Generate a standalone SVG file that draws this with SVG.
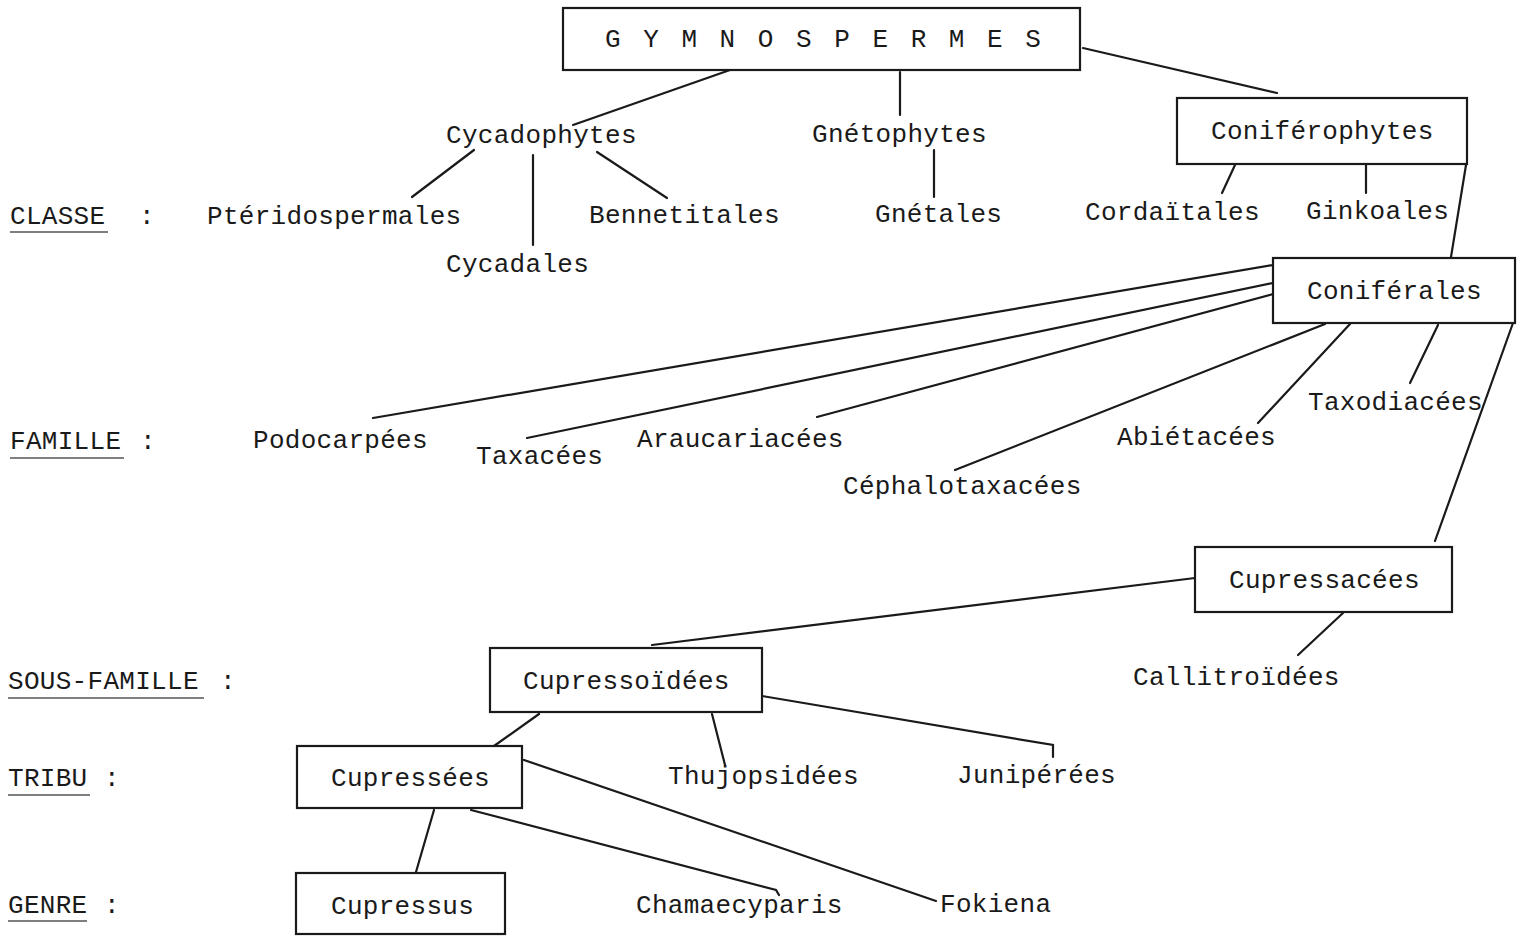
<svg xmlns="http://www.w3.org/2000/svg" width="1523" height="936" viewBox="0 0 1523 936">
<style>
  text { font-family: "Liberation Mono", "DejaVu Sans Mono", monospace; font-size: 26px; fill: #1a1a1a; letter-spacing: 0.3px; }
  .box { fill: #fff; stroke: #1a1a1a; stroke-width: 2.2; }
  .ln { stroke: #1a1a1a; stroke-width: 2.2; fill: none; stroke-linecap: round; }
  .ul { stroke: #555; stroke-width: 1.6; }
</style>
<rect width="1523" height="936" fill="#fff"/>

<g id="connectors">
  <line class="ln" x1="730" y1="70" x2="573" y2="125"/>
  <line class="ln" x1="900" y1="72" x2="900" y2="115"/>
  <line class="ln" x1="1083" y1="48" x2="1277" y2="93"/>
  <line class="ln" x1="474" y1="150" x2="412" y2="197"/>
  <line class="ln" x1="533" y1="155" x2="533" y2="245"/>
  <line class="ln" x1="597" y1="152" x2="667" y2="198"/>
  <line class="ln" x1="934" y1="150" x2="934" y2="197"/>
  <line class="ln" x1="1235" y1="165" x2="1222" y2="193"/>
  <line class="ln" x1="1366" y1="165" x2="1366" y2="193"/>
  <line class="ln" x1="1466" y1="165" x2="1451" y2="257"/>
  <line class="ln" x1="1273" y1="265" x2="373" y2="418"/>
  <line class="ln" x1="1273" y1="283" x2="527" y2="438"/>
  <line class="ln" x1="1273" y1="294" x2="817" y2="417"/>
  <line class="ln" x1="1325" y1="324" x2="955" y2="470"/>
  <line class="ln" x1="1350" y1="324" x2="1258" y2="423"/>
  <line class="ln" x1="1438" y1="325" x2="1410" y2="383"/>
  <line class="ln" x1="1513" y1="323" x2="1435" y2="541"/>
  <line class="ln" x1="1195" y1="578" x2="652" y2="645"/>
  <line class="ln" x1="1343" y1="613" x2="1298" y2="655"/>
  <line class="ln" x1="539" y1="714" x2="494" y2="746"/>
  <line class="ln" x1="712" y1="714" x2="725" y2="765"/>
  <polyline class="ln" points="762,696 1053,745 1053,757"/>
  <line class="ln" x1="434" y1="810" x2="416" y2="872"/>
  <polyline class="ln" points="471,810 776,890 779,895"/>
  <line class="ln" x1="524" y1="760" x2="936" y2="901"/>
</g>

<g id="levels">
  <text x="10" y="224">CLASSE</text><text x="139" y="224">:</text>
  <line class="ul" x1="10" y1="232" x2="108" y2="232"/>
  <text x="10" y="449">FAMILLE</text><text x="140" y="449">:</text>
  <line class="ul" x1="10" y1="458" x2="124" y2="458"/>
  <text x="8" y="689">SOUS-FAMILLE</text><text x="220" y="689">:</text>
  <line class="ul" x1="8" y1="698" x2="204" y2="698"/>
  <text x="8" y="786">TRIBU</text><text x="104" y="786">:</text>
  <line class="ul" x1="8" y1="795" x2="90" y2="795"/>
  <text x="8" y="913">GENRE</text><text x="104" y="913">:</text>
  <line class="ul" x1="8" y1="921" x2="87" y2="921"/>
</g>

<g id="gymnospermes">
  <rect class="box" x="563" y="8" width="517" height="62"/>
  <text x="605" y="47" style="letter-spacing:3.5px">G Y M N O S P E R M E S</text>
</g>
<g id="cycadophytes"><text x="446" y="143">Cycadophytes</text></g>
<g id="gnetophytes"><text x="812" y="142">Gnétophytes</text></g>
<g id="coniferophytes">
  <rect class="box" x="1177" y="98" width="290" height="66"/>
  <text x="1211" y="139">Coniférophytes</text>
</g>
<g id="pteridospermales"><text x="207" y="224">Ptéridospermales</text></g>
<g id="bennetitales"><text x="589" y="223">Bennetitales</text></g>
<g id="cycadales"><text x="446" y="272">Cycadales</text></g>
<g id="gnetales"><text x="875" y="222">Gnétales</text></g>
<g id="cordaitales"><text x="1085" y="220">Cordaïtales</text></g>
<g id="ginkoales"><text x="1306" y="219">Ginkoales</text></g>
<g id="coniferales">
  <rect class="box" x="1273" y="258" width="242" height="65"/>
  <text x="1307" y="299">Coniférales</text>
</g>
<g id="podocarpees"><text x="253" y="448">Podocarpées</text></g>
<g id="taxacees"><text x="476" y="464">Taxacées</text></g>
<g id="araucariacees"><text x="637" y="447">Araucariacées</text></g>
<g id="cephalotaxacees"><text x="843" y="494">Céphalotaxacées</text></g>
<g id="abietacees"><text x="1117" y="445">Abiétacées</text></g>
<g id="taxodiacees"><text x="1308" y="410">Taxodiacées</text></g>
<g id="cupressacees">
  <rect class="box" x="1195" y="547" width="257" height="65"/>
  <text x="1229" y="588">Cupressacées</text>
</g>
<g id="cupressoidees">
  <rect class="box" x="490" y="648" width="272" height="64"/>
  <text x="523" y="689">Cupressoïdées</text>
</g>
<g id="callitroidees"><text x="1133" y="685">Callitroïdées</text></g>
<g id="cupressees">
  <rect class="box" x="297" y="746" width="225" height="62"/>
  <text x="331" y="786">Cupressées</text>
</g>
<g id="thujopsidees"><text x="668" y="784">Thujopsidées</text></g>
<g id="juniperees"><text x="957" y="783">Junipérées</text></g>
<g id="cupressus">
  <rect class="box" x="296" y="873" width="209" height="61"/>
  <text x="331" y="914">Cupressus</text>
</g>
<g id="chamaecyparis"><text x="636" y="913">Chamaecyparis</text></g>
<g id="fokiena"><text x="940" y="912">Fokiena</text></g>
</svg>
